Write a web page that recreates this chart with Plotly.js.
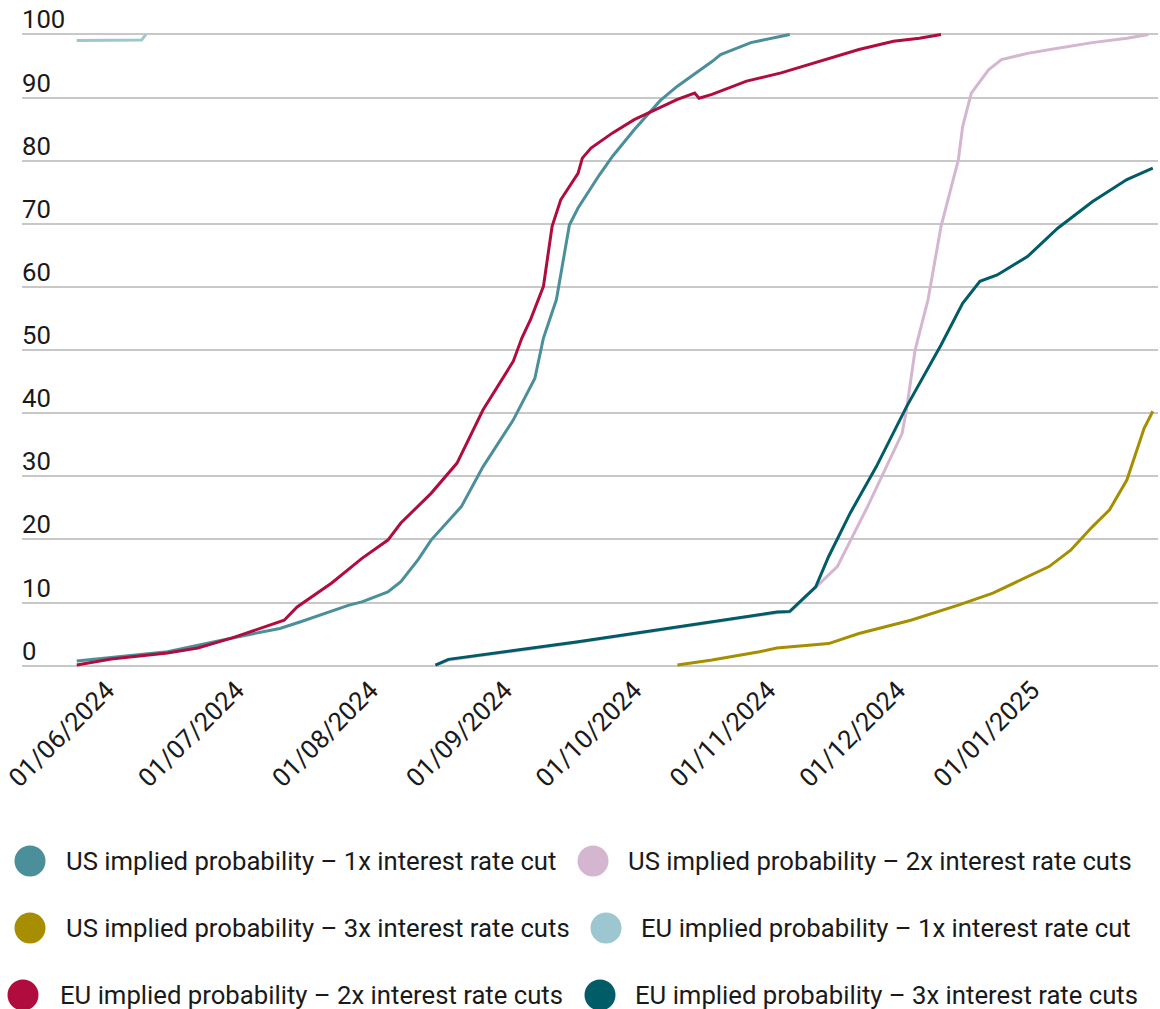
<!DOCTYPE html>
<html>
<head>
<meta charset="utf-8">
<script src="https://cdn.plot.ly/plotly-3.0.1.min.js"></script>
<style>
  html, body { margin: 0; padding: 0; background: #ffffff; }
  #chart { width: 1160px; height: 1009px; }
</style>
</head>
<body>
<div id="chart"></div>
<script>
// ---------------- DATA ----------------
const seriesNames = [
  'US implied probability – 1x interest rate cut',
  'US implied probability – 2x interest rate cuts',
  'US implied probability – 3x interest rate cuts',
  'EU implied probability – 1x interest rate cut',
  'EU implied probability – 2x interest rate cuts',
  'EU implied probability – 3x interest rate cuts'
];

const usCut1Dates = ['2024-05-25','2024-06-15','2024-06-30','2024-07-11','2024-07-16','2024-07-23','2024-07-27','2024-07-30','2024-08-05','2024-08-08','2024-08-12','2024-08-15','2024-08-22','2024-08-27','2024-09-03','2024-09-08','2024-09-10','2024-09-13','2024-09-16','2024-09-18','2024-09-23','2024-09-26','2024-10-01','2024-10-07','2024-10-11','2024-10-19','2024-10-21','2024-10-28','2024-11-06'];
const usCut1Values = [0.75, 2.2, 4.4, 5.9, 7.0, 8.6, 9.6, 10.1, 11.7, 13.3, 16.8, 19.9, 25.2, 31.5, 38.9, 45.5, 51.9, 58.0, 69.8, 72.5, 77.8, 80.7, 84.9, 89.5, 91.8, 95.7, 96.8, 98.7, 100];

const usCut2Dates = ['2024-08-16','2024-08-19','2024-09-18','2024-09-30','2024-10-11','2024-10-30','2024-11-03','2024-11-06','2024-11-17','2024-11-24','2024-11-30','2024-12-02','2024-12-03','2024-12-05','2024-12-08','2024-12-11','2024-12-15','2024-12-16','2024-12-18','2024-12-22','2024-12-25','2024-12-31','2025-01-07','2025-01-15','2025-01-23','2025-01-28'];
const usCut2Values = [0.0, 0.9, 3.7, 4.9, 6.1, 7.9, 8.4, 8.5, 15.7, 25.2, 33.7, 36.8, 40.5, 50.0, 58.0, 69.6, 80.1, 85.4, 90.7, 94.4, 96.0, 97.0, 97.8, 98.7, 99.4, 100];

const usCut3Dates = ['2024-10-11','2024-10-19','2024-10-30','2024-11-03','2024-11-15','2024-11-22','2024-12-04','2024-12-15','2024-12-23','2025-01-05','2025-01-10','2025-01-15','2025-01-19','2025-01-23','2025-01-27','2025-01-29'];
const usCut3Values = [0.1, 0.9, 2.2, 2.8, 3.5, 5.1, 7.2, 9.6, 11.5, 15.7, 18.3, 22.0, 24.7, 29.4, 37.6, 40.3];

const euCut1Dates = ['2024-05-25','2024-06-09','2024-06-10'];
const euCut1Values = [99.05, 99.1, 100];

const euCut2Dates = ['2024-05-25','2024-06-02','2024-06-15','2024-06-22','2024-06-30','2024-07-08','2024-07-12','2024-07-15','2024-07-23','2024-07-30','2024-08-05','2024-08-08','2024-08-15','2024-08-21','2024-08-27','2024-09-03','2024-09-05','2024-09-07','2024-09-10','2024-09-12','2024-09-14','2024-09-18','2024-09-19','2024-09-21','2024-09-26','2024-10-01','2024-10-05','2024-10-11','2024-10-15','2024-10-16','2024-10-19','2024-10-27','2024-11-04','2024-11-14','2024-11-22','2024-11-30','2024-12-06','2024-12-11'];
const euCut2Values = [0.1, 1.06, 2.0, 2.8, 4.4, 6.2, 7.2, 9.3, 13.1, 17.0, 19.9, 22.6, 27.3, 32.1, 40.5, 48.2, 51.9, 54.8, 60.1, 69.6, 73.8, 78.0, 80.4, 82.0, 84.4, 86.5, 87.8, 89.7, 90.7, 89.9, 90.5, 92.6, 93.9, 96.0, 97.6, 98.9, 99.4, 100];

const euCut3Dates = ['2024-08-16','2024-08-19','2024-09-18','2024-09-30','2024-10-11','2024-10-30','2024-11-03','2024-11-06','2024-11-12','2024-11-15','2024-11-20','2024-11-26','2024-12-03','2024-12-11','2024-12-16','2024-12-20','2024-12-24','2024-12-31','2025-01-07','2025-01-15','2025-01-23','2025-01-29'];
const euCut3Values = [0.1, 1.0, 3.8, 5.0, 6.2, 8.0, 8.5, 8.6, 12.5, 17.3, 24.2, 31.5, 41.0, 50.8, 57.4, 60.9, 61.9, 64.8, 69.3, 73.5, 77.0, 78.8];

const yTickValues = [0, 10, 20, 30, 40, 50, 60, 70, 80, 90, 100];

// ---------------- STYLE ----------------
const seriesColors = ['#4a8f9a', '#d5b6d0', '#a68e00', '#9dc7d0', '#b00c3e', '#005c66'];
const FONT = 'Roboto, "Noto Sans", Arial, sans-serif';
const TEXT_COLOR = '#1a1a1a';
const FONT_SIZE = 25.7;

const W = 1160, H = 1009;
const M = { l: 22, r: 2, t: 6, b: 337 };
const plotW = W - M.l - M.r, plotH = H - M.t - M.b;
const px2x = px => (px - M.l) / plotW;
const px2y = py => (H - M.b - py) / plotH;

const seriesData = [
  [usCut1Dates, usCut1Values],
  [usCut2Dates, usCut2Values],
  [usCut3Dates, usCut3Values],
  [euCut1Dates, euCut1Values],
  [euCut2Dates, euCut2Values],
  [euCut3Dates, euCut3Values]
];

const traces = seriesData.map((d, i) => ({
  type: 'scatter',
  mode: 'lines',
  name: seriesNames[i],
  x: d[0],
  y: d[1],
  line: { color: seriesColors[i], width: 3 },
  showlegend: false,
  hoverinfo: 'x+y+name'
}));

// legend layout: [circle center x, text left x, row center y] in pixels
const legendSlots = [
  [30, 64, 861],
  [593, 626, 861],
  [30, 64, 928],
  [606, 639, 928],
  [23, 58, 995],
  [600, 633, 995]
];

const shapes = legendSlots.map((s, i) => ({
  type: 'circle',
  xref: 'paper', yref: 'paper',
  xsizemode: 'pixel', ysizemode: 'pixel',
  xanchor: px2x(s[0]), yanchor: px2y(s[2]),
  x0: -15.5, x1: 15.5, y0: -15.5, y1: 15.5,
  fillcolor: seriesColors[i],
  line: { width: 0 }
}));

const annotations = legendSlots.map((s, i) => ({
  xref: 'paper', yref: 'paper',
  x: px2x(s[1]), y: px2y(s[2]),
  xanchor: 'left', yanchor: 'middle',
  text: seriesNames[i],
  showarrow: false,
  font: { family: FONT, size: FONT_SIZE, color: TEXT_COLOR }
}));

const layout = {
  width: W, height: H,
  margin: M,
  paper_bgcolor: '#ffffff',
  plot_bgcolor: '#ffffff',
  showlegend: false,
  font: { family: FONT, color: TEXT_COLOR, size: FONT_SIZE },
  xaxis: {
    type: 'date',
    range: ['2024-05-12 08:00', '2025-01-30 05:00'],
    tick0: '2024-06-01',
    dtick: 'M1',
    tickformat: '%d/%m/%Y',
    tickangle: -45,
    showgrid: false,
    zeroline: false,
    showline: false,
    ticks: '',
    ticklabelstandoff: -3,
    tickfont: { family: FONT, size: FONT_SIZE, color: TEXT_COLOR }
  },
  yaxis: {
    range: [-1, 104.5],
    tickvals: yTickValues,
    ticktext: yTickValues.map(String),
    showgrid: true,
    gridcolor: '#c8c8c8',
    gridwidth: 2,
    zeroline: false,
    showline: false,
    ticks: '',
    ticklabelposition: 'inside',
    ticklabeloverflow: 'allow',
    ticklabelshift: -15,
    ticklabelstandoff: -3,
    tickfont: { family: FONT, size: FONT_SIZE, color: TEXT_COLOR }
  },
  shapes: shapes,
  annotations: annotations
};

Plotly.newPlot('chart', traces, layout, { displayModeBar: false, staticPlot: true });
</script>
</body>
</html>
